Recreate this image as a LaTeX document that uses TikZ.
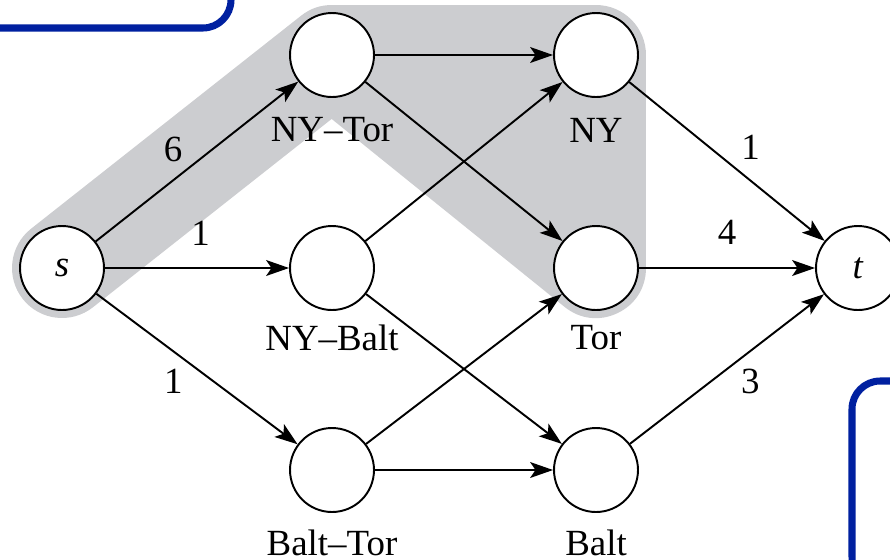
\documentclass[tikz,border=0pt]{standalone}
\usepackage{fontspec}
\setmainfont{Liberation Serif}
\usepackage{xcolor}
\usetikzlibrary{arrows.meta, positioning, calc, backgrounds}
\definecolor{cutblue}{RGB}{0,32,160}
\definecolor{shadegray}{RGB}{204,205,208}
\tikzset{
  citynode/.style={
    draw, circle, line width=1.1pt, fill=white,
    minimum size=1.68cm, inner sep=0pt,
    font=\fontsize{21}{25}\selectfont
  },
  citylabel/.style={
    font=\fontsize{21}{25}\selectfont, inner sep=0pt
  },
  flowarrow/.style={
    -{Stealth[length=13pt, width=9pt, inset=3pt]}, line width=1.1pt
  },
  flowlabel/.style={
    font=\fontsize{21}{25}\selectfont, inner sep=2pt
  },
  cutband/.style={
    line width=2cm, color=shadegray, line join=round, line cap=round
  },
  cutframe/.style={
    draw=cutblue, line width=4pt, rounded corners=16pt
  },
}

\begin{document}
\begin{tikzpicture}[x=0.02cm, y=-0.02cm]
  \useasboundingbox (0,0) rectangle (890,559);

  % Nodes
  \node[citynode] (s) at (62,268) {\textit{s}};
  \node[citynode] (nytor) at (332,55) {};
  \node[citynode] (nybalt) at (332,268) {};
  \node[citynode] (balttor) at (332,470) {};
  \node[citynode] (ny) at (596,55) {};
  \node[citynode] (tor) at (596,268) {};
  \node[citynode] (balt) at (596,470) {};
  \node[citynode] (t) at (858,268) {\textit{t}};

  % Node labels
  \node[citylabel] (lnytor) at (332,130) {NY–Tor};
  \node[citylabel] (lny) at (596,130) {NY};
  \node[citylabel] (lnybalt) at (332,338) {NY–Balt};
  \node[citylabel] (ltor) at (596,338) {Tor};
  \node[citylabel] (lbalttor) at (332,543) {Balt–Tor};
  \node[citylabel] (lbalt) at (596,543) {Balt};

  % Shaded cut
  \begin{scope}[on background layer]
    \draw[cutband] (s.center) -- (nytor.center) -- (ny.center)
      -- (tor.center) -- (nytor.center);
    \fill[shadegray] (nytor.center) -- (ny.center) -- (tor.center) -- cycle;
  \end{scope}

  % Frames cut by the border
  \draw[cutframe] (-40,-60) rectangle (231,28);
  \draw[cutframe] (852,381) rectangle (940,585);

  % Arrows
  \draw[flowarrow] (s) -- node[flowlabel, pos=0.45, above left, yshift=2pt] {6} (nytor);
  \draw[flowarrow] (s) -- node[flowlabel, pos=0.52, above=10pt] {1} (nybalt);
  \draw[flowarrow] (s) -- node[flowlabel, pos=0.45, below left, yshift=-2pt] {1} (balttor);
  \draw[flowarrow] (nytor) -- (ny);
  \draw[flowarrow] (nytor) -- (tor);
  \draw[flowarrow] (nybalt) -- (ny);
  \draw[flowarrow] (nybalt) -- (balt);
  \draw[flowarrow] (balttor) -- (tor);
  \draw[flowarrow] (balttor) -- (balt);
  \draw[flowarrow] (ny) -- node[flowlabel, pos=0.55, above right, yshift=3pt] {1} (t);
  \draw[flowarrow] (tor) -- node[flowlabel, pos=0.5, above=11pt] {4} (t);
  \draw[flowarrow] (balt) -- node[flowlabel, pos=0.55, below right, yshift=-2pt] {3} (t);
\end{tikzpicture}
\end{document}
